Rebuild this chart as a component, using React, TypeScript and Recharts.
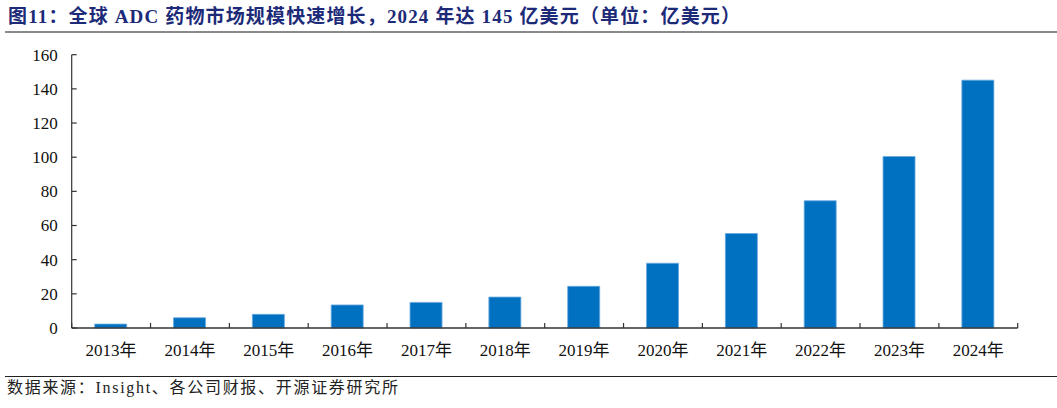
import { BarChart, Bar, XAxis, YAxis } from 'recharts';

const years = ['2013年', '2014年', '2015年', '2016年', '2017年', '2018年', '2019年', '2020年', '2021年', '2022年', '2023年', '2024年'];
const marketSize = [2.3, 6.0, 8.0, 13.5, 15.0, 18.1, 24.4, 37.9, 55.3, 74.5, 100.4, 145.1];
const yTicks = [0, 20, 40, 60, 80, 100, 120, 140, 160];

const data = years.map((year, i) => ({ year, value: marketSize[i] }));

const W = 1057;
const H = 408;
const PLOT_LEFT = 71.7;
const PLOT_RIGHT = 1017.7;
const PLOT_TOP = 54.7;
const PLOT_BOTTOM = 328;
const Y_AXIS_W = 60;
const X_AXIS_H = 30;
const STEP = (PLOT_RIGHT - PLOT_LEFT) / years.length;

const serif = "'Liberation Serif', 'Times New Roman', 'Noto Sans CJK SC', serif";
const axisColor = '#333';

function YTick({ x, y, payload }: any) {
  return (
    <g>
      <line x1={x} x2={x + 5} y1={y} y2={y} stroke={axisColor} strokeWidth={1.2} />
      <text x={x - 14} y={y} dy="0.35em" textAnchor="end" fontSize={17} fontFamily={serif} fill="#111">
        {payload.value}
      </text>
    </g>
  );
}

function XTick({ x, y, payload, index }: any) {
  return (
    <g>
      {index === 0 && (
        <line x1={x - STEP / 2} x2={x - STEP / 2} y1={y} y2={y - 5} stroke={axisColor} strokeWidth={1.2} />
      )}
      <line x1={x + STEP / 2} x2={x + STEP / 2} y1={y} y2={y - 5} stroke={axisColor} strokeWidth={1.2} />
      <text x={x} y={y + 22} dy="0.35em" textAnchor="middle" fontSize={17} fontFamily={serif} fill="#111">
        {payload.value}
      </text>
    </g>
  );
}

export default function App() {
  return (
    <div style={{ position: 'absolute', left: 0, top: 0, width: W, height: H, background: '#fff' }}>
      <div
        style={{
          position: 'absolute',
          left: 8,
          top: 7,
          fontSize: 19,
          lineHeight: '19px',
          letterSpacing: 1.15,
          fontWeight: 'bold',
          color: '#1c2a78',
          fontFamily: serif,
          whiteSpace: 'nowrap',
        }}
      >
        图11：全球 ADC 药物市场规模快速增长，2024 年达 145 亿美元（单位：亿美元）
      </div>
      <div style={{ position: 'absolute', left: 5, right: 0, top: 31, height: 1.5, background: '#8a8a8a' }} />

      <div style={{ position: 'absolute', left: 0, top: 0 }}>
        <BarChart
          width={W}
          height={H}
          data={data}
          margin={{
            top: PLOT_TOP,
            right: W - PLOT_RIGHT,
            bottom: H - PLOT_BOTTOM - X_AXIS_H,
            left: PLOT_LEFT - Y_AXIS_W,
          }}
        >
          <XAxis
            dataKey="year"
            height={X_AXIS_H}
            axisLine={{ stroke: axisColor, strokeWidth: 1.5 }}
            tickLine={false}
            tickSize={0}
            tickMargin={0}
            interval={0}
            tick={<XTick />}
          />
          <YAxis
            width={Y_AXIS_W}
            domain={[0, 160]}
            ticks={yTicks}
            axisLine={{ stroke: axisColor, strokeWidth: 1.2 }}
            tickLine={false}
            tickSize={0}
            tickMargin={0}
            interval={0}
            tick={<YTick />}
          />
          <Bar dataKey="value" fill="#0070c0" stroke="#6aaae0" strokeWidth={0.8} barSize={32} isAnimationActive={false} />
        </BarChart>
      </div>

      <div style={{ position: 'absolute', left: 5, right: 0, top: 375.5, height: 1.5, background: '#222' }} />
      <div
        style={{
          position: 'absolute',
          left: 7,
          top: 380,
          fontSize: 16,
          lineHeight: '16px',
          letterSpacing: 1.7,
          color: '#222',
          fontFamily: serif,
          whiteSpace: 'nowrap',
        }}
      >
        数据来源：Insight、各公司财报、开源证券研究所
      </div>
    </div>
  );
}
